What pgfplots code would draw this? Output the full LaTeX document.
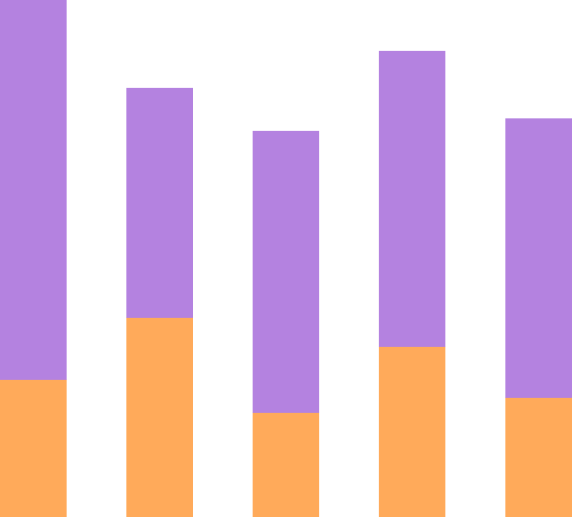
\documentclass[border=0pt]{standalone}
\usepackage{pgfplots}
\pgfplotsset{compat=1.18}
\definecolor{barorange}{HTML}{FFAA5A}
\definecolor{barpurple}{HTML}{B482E0}
\begin{document}
\begin{tikzpicture}
\begin{axis}[
    scale only axis,
    width=572bp,
    height=517bp,
    xmin=0, xmax=572,
    ymin=0, ymax=517,
    hide axis,
    ybar stacked,
    bar width=66.5,
    clip=false,
]
\addplot[fill=barorange, draw=none] coordinates {
  (33.25,137) (159.6,199) (285.9,104) (412.2,170) (538.5,119)
};
\addplot[fill=barpurple, draw=none] coordinates {
  (33.25,380) (159.6,230) (285.9,282) (412.2,296) (538.5,279.5)
};
\end{axis}
\pgfresetboundingbox
\useasboundingbox (current axis.south west) rectangle (current axis.north east);
\end{tikzpicture}
\end{document}
